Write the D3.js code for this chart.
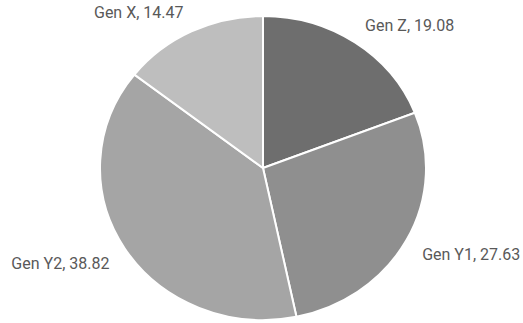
<!DOCTYPE html>
<html>
<head>
<meta charset="utf-8">
<script src="https://cdn.jsdelivr.net/npm/d3@7"></script>
<style>
  body { margin: 0; background: #fff; }
  svg { display: block; }
  text { font-family: Roboto, sans-serif; font-size: 16px; fill: #595959; }
</style>
</head>
<body>
<svg width="523" height="323"></svg>
<script>
const categories = ['Gen Z', 'Gen Y1', 'Gen Y2', 'Gen X'];
const values = [19.08, 27.63, 38.82, 14.47];
const colors = ['#6e6e6e', '#8f8f8f', '#a5a5a5', '#bebebe'];

const svg = d3.select('svg');
const cx = 263, cy = 168;
const rx = 163, ry = 152;
const pad = 18;

const data = categories.map((c, i) => ({ name: c, value: values[i], color: colors[i] }));

const pie = d3.pie().value(d => d.value).sort(null);
const arc = d3.arc().innerRadius(0).outerRadius(rx);
const arcs = pie(data);

const g = svg.append('g')
  .attr('transform', `translate(${cx},${cy}) scale(1,${ry / rx})`);

g.selectAll('path')
  .data(arcs)
  .enter()
  .append('path')
  .attr('d', arc)
  .attr('fill', d => d.data.color)
  .attr('stroke', '#fff')
  .attr('stroke-width', 2)
  .attr('vector-effect', 'non-scaling-stroke');

const mid = d => (d.startAngle + d.endAngle) / 2;

// labels sit just outside the rim at each slice's mid angle
svg.append('g')
  .selectAll('text')
  .data(arcs)
  .enter()
  .append('text')
  .attr('x', d => cx + Math.sin(mid(d)) * (rx + pad))
  .attr('y', d => cy - Math.cos(mid(d)) * (ry + pad + 6))
  .attr('dy', '0.5em')
  .attr('text-anchor', d => Math.sin(mid(d)) > 0 ? 'start' : 'end')
  .text(d => `${d.data.name}, ${d.data.value.toFixed(2)}`);
</script>
</body>
</html>
